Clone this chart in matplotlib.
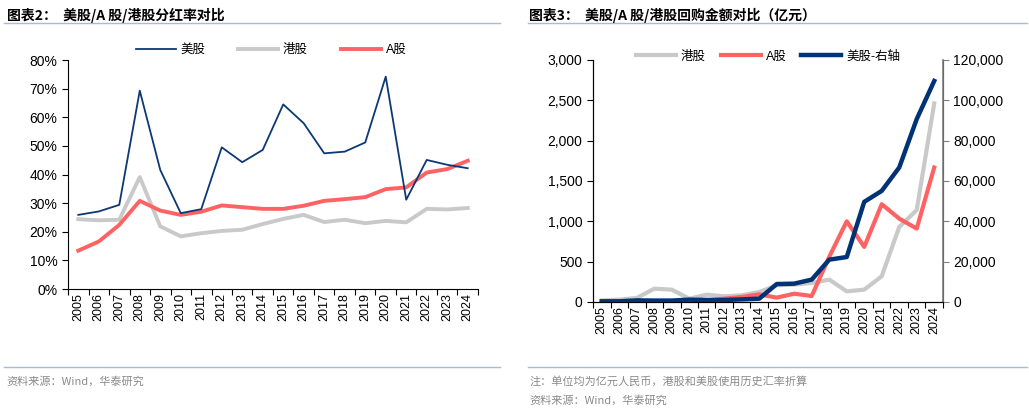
import matplotlib.pyplot as plt
from matplotlib.lines import Line2D
from matplotlib.ticker import FuncFormatter, MultipleLocator
import numpy as np

plt.rcParams['font.family'] = ['Liberation Sans', 'Noto Sans CJK SC', 'DejaVu Sans']

# -------------------------
# Data
# -------------------------
years = [str(y) for y in range(2005, 2025)]

# payout ratio (%)
us_payout = [25.9, 27.1, 29.4, 69.3, 41.6, 26.5, 27.9, 49.5, 44.3, 48.6,
             64.5, 57.9, 47.4, 48.0, 51.2, 74.2, 31.2, 45.1, 43.4, 42.2]
hk_payout = [24.4, 24.0, 24.2, 39.1, 21.9, 18.4, 19.5, 20.3, 20.7, 22.7,
             24.5, 25.9, 23.4, 24.2, 23.0, 23.8, 23.3, 28.0, 27.8, 28.3]
a_payout = [13.4, 16.6, 22.4, 30.8, 27.4, 25.9, 27.0, 29.2, 28.6, 28.0,
            28.0, 29.1, 30.8, 31.4, 32.1, 34.9, 35.5, 40.7, 41.9, 44.8]

# buyback amount (亿元)
hk_buyback = [20, 29, 50, 165, 153, 41, 91, 70, 83, 124,
              207, 215, 236, 277, 132, 153, 319, 930, 1140, 2462]
a_buyback = [5, 5, 8, 10, 10, 15, 20, 41, 62, 95,
             54, 103, 74, 560, 1000, 683, 1212, 1034, 910, 1667]
us_buyback = [330, 330, 800, 700, 700, 1160, 1000, 1000, 1300, 1650,
              8900, 9100, 11100, 21000, 22300, 49650, 55100, 66700, 90700, 109600]

NAVY = '#0c3876'
NAVY2 = '#003276'
GRAY = '#c9c9c9'
RED = '#ff6262'
RULE = '#a8bcd2'
NOTE = '#8a8a8a'

fig = plt.figure(figsize=(10.29, 4.12), dpi=100)
x = np.arange(len(years))


def setup_xaxis(ax):
    ax.set_xlim(-0.5, len(years) - 0.5)
    ax.set_xticks(np.arange(-0.5, len(years), 1.0))
    ax.set_xticklabels([])
    ax.set_xticks(x, minor=True)
    ax.set_xticklabels(years, minor=True, rotation=90, fontsize=9)
    ax.tick_params(axis='x', which='major', direction='out', length=4, width=0.8)
    ax.tick_params(axis='x', which='minor', length=0, pad=3)


# -------------------------
# Left: payout ratio
# -------------------------
ax1 = fig.add_axes([0.0661, 0.2985, 0.3984, 0.5558])
ax1.plot(x, us_payout, color=NAVY, lw=1.3, label='美股', zorder=4)
ax1.plot(x, hk_payout, color=GRAY, lw=2.8, label='港股', zorder=2)
ax1.plot(x, a_payout, color=RED, lw=2.8, label='A股', zorder=3)
ax1.set_ylim(0, 80)
ax1.yaxis.set_major_locator(MultipleLocator(10))
ax1.yaxis.set_major_formatter(FuncFormatter(lambda v, p: f'{v:.0f}%'))
ax1.tick_params(axis='y', direction='out', length=4, width=0.8, labelsize=10)
setup_xaxis(ax1)
for s in ['top', 'right']:
    ax1.spines[s].set_visible(False)
ax1.legend(loc='upper center', bbox_to_anchor=(0.495, 1.12), ncol=3, frameon=False,
           fontsize=9, handlelength=3.2, columnspacing=2.6, handletextpad=0.4)

# -------------------------
# Right: buyback amount
# -------------------------
ax2 = fig.add_axes([0.5763, 0.267, 0.3401, 0.5874])
ax3 = ax2.twinx()
l1, = ax2.plot(x, hk_buyback, color=GRAY, lw=3.0, label='港股', zorder=2)
l2, = ax2.plot(x, a_buyback, color=RED, lw=3.0, label='A股', zorder=3)
l3, = ax3.plot(x, us_buyback, color=NAVY2, lw=3.2, label='美股-右轴', zorder=4)
ax2.set_ylim(0, 3000)
ax3.set_ylim(0, 120000)
ax2.yaxis.set_major_locator(MultipleLocator(500))
ax3.yaxis.set_major_locator(MultipleLocator(20000))
ax2.yaxis.set_major_formatter(FuncFormatter(lambda v, p: f'{v:,.0f}'))
ax3.yaxis.set_major_formatter(FuncFormatter(lambda v, p: f'{v:,.0f}'))
ax2.tick_params(axis='y', direction='out', length=4, width=0.8, labelsize=10)
ax3.tick_params(axis='y', direction='out', length=4, width=0.8, labelsize=10, color='#808080')
setup_xaxis(ax2)
ax2.spines['top'].set_visible(False)
ax3.spines['top'].set_visible(False)
ax3.spines['right'].set_color('#808080')
ax3.spines['right'].set_linewidth(1.2)
ax2.legend(handles=[l1, l2, l3], loc='upper center', bbox_to_anchor=(0.5, 1.085), ncol=3,
           frameon=False, fontsize=9, handlelength=3.2, columnspacing=1.2, handletextpad=0.4)

# -------------------------
# Titles, rules, footers
# -------------------------
cjk = ['Noto Sans CJK SC', 'Liberation Sans']
fig.text(0.007, 0.962, '图表2：  美股/A 股/港股分红率对比', fontsize=10, fontweight='bold',
         family=cjk, va='center')
fig.text(0.514, 0.962, '图表3：  美股/A 股/港股回购金额对比（亿元）', fontsize=10, fontweight='bold',
         family=cjk, va='center')
for x0, x1 in [(0.004, 0.486), (0.513, 0.998)]:
    fig.add_artist(Line2D([x0, x1], [0.944, 0.944], color=RULE, lw=1.0, transform=fig.transFigure))
    fig.add_artist(Line2D([x0, x1], [0.109, 0.109], color=RULE, lw=1.0, transform=fig.transFigure))

fig.text(0.006, 0.074, '资料来源：Wind，华泰研究', fontsize=8, color=NOTE, family=cjk, va='center')
fig.text(0.515, 0.074, '注：单位均为亿元人民币，港股和美股使用历史汇率折算', fontsize=8, color=NOTE,
         family=cjk, va='center')
fig.text(0.515, 0.029, '资料来源：Wind，华泰研究', fontsize=8, color=NOTE, family=cjk, va='center')

fig.savefig('out.png', dpi=100)
